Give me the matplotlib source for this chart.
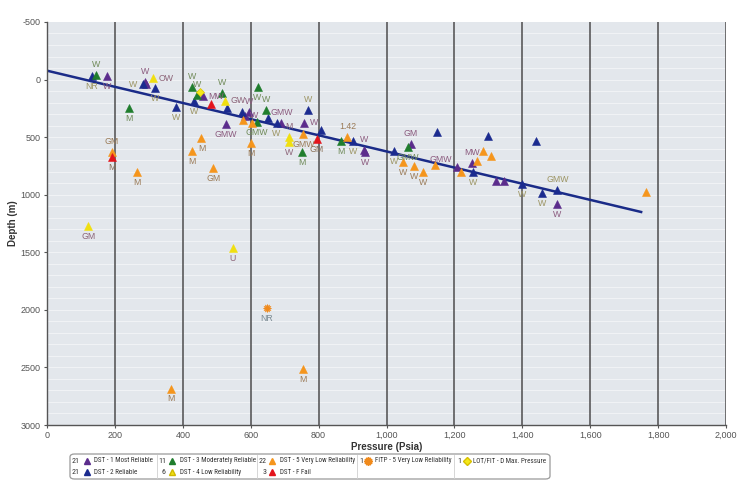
import matplotlib
matplotlib.use("Agg")
import matplotlib.pyplot as plt
from matplotlib.patches import FancyBboxPatch
from matplotlib.lines import Line2D
from matplotlib import font_manager

plt.rcParams['font.family'] = ['Liberation Sans', 'DejaVu Sans']
plt.rcParams['axes.unicode_minus'] = False

# pick a narrow font for the legend if one is installed
_fl = font_manager.fontManager.ttflist
_names = {f.name for f in _fl}
NARROW_FAMILY, NARROW_STRETCH = ['Liberation Sans'], 'normal'
for cand in ['Liberation Sans Narrow', 'Arial Narrow', 'Roboto Condensed', 'Open Sans Condensed',
             'DejaVu Sans Condensed']:
    if cand in _names:
        NARROW_FAMILY = [cand]
        break
else:
    for f in _fl:
        if f.name in ('Roboto', 'Open Sans', 'DejaVu Sans', 'Noto Sans') and str(f.stretch) in ('condensed', 'semi-condensed', '75', '87.5'):
            NARROW_FAMILY, NARROW_STRETCH = [f.name], 'condensed'
            break

# ---------------- data ----------------
dst1_p = [178, 289, 292, 459, 527, 596, 582, 690, 757, 937, 935, 1072, 1251, 1209, 1323, 1346, 1503]
dst1_d = [-33, 19, 40, 143, 389, 279, 314, 378, 375, 627, 612, 563, 728, 763, 881, 878, 1081]
dst1_lab = ['W', 'W', '', 'MW', 'GMW', 'W', 'W', 'GMW', 'W', 'W', 'W', 'GM', 'MW', 'GMW', '', '', 'W']
dst1_pos = ['b', 'a', '', 'r', 'b', 'a', 'r', 'a', 'r', 'b', 'a', 'a', 'a', 'al', '', '', 'b']

dst2_p = [132, 282, 318, 380, 433, 531, 573, 650, 676, 768, 806, 902, 1023, 1148, 1300, 1440, 1254, 1398, 1457, 1503]
dst2_d = [-33, 41, 76, 236, 184, 244, 279, 337, 375, 264, 438, 534, 621, 458, 490, 534, 800, 910, 988, 960]
dst2_lab = ['NR', 'W', 'W', 'W', 'W', '', '', '', 'W', 'W', '', 'W', 'W', '', '', '', 'W', 'W', 'W', 'GMW']
dst2_pos = ['b', 'l', 'b', 'b', 'b', '', '', '', 'b', 'a', '', 'b', 'b', '', '', '', 'b', 'b', 'b', 'a']

dst3_p = [144, 240, 426, 443, 516, 620, 644, 619, 750, 866, 1062]
dst3_d = [-40, 245, 62, 134, 114, 67, 264, 366, 632, 534, 588]
dst3_lab = ['W', 'M', 'W', 'W', 'W', 'W', 'W', 'GMW', 'M', 'M', 'GMW']
dst3_pos = ['a', 'b', 'a', 'a', 'a', 'b', 'a', 'b', 'b', 'b', 'b']

dst4_p = [311, 524, 714, 714, 122, 547]
dst4_d = [-11, 186, 496, 545, 1270, 1466]
dst4_lab = ['OW', 'GW', 'M', 'W', 'GM', 'U']
dst4_pos = ['r', 'r', 'a', 'b', 'b', 'b']

dst5_p = [191, 266, 426, 455, 490, 578, 603, 601, 755, 885, 1050, 1082, 1108, 1143, 1285, 1307, 1266, 1219, 1764, 364, 753]
dst5_d = [632, 800, 620, 508, 766, 348, 380, 554, 470, 496, 719, 751, 803, 742, 618, 661, 705, 806, 974, 2683, 2517]
dst5_lab = ['GM', 'M', 'M', 'M', 'GM', '', '', 'M', 'GMW', '1.42', 'W', 'W', 'W', '', '', '', '', '', '', 'M', 'M']
dst5_pos = ['a', 'b', 'b', 'b', 'b', '', '', 'b', 'b', 'a', 'b', 'b', 'b', '', '', '', '', '', '', 'b', 'b']

dstf_p = [191, 482, 794]
dstf_d = [676, 215, 517]
dstf_lab = ['M', '', 'GM']
dstf_pos = ['b', '', 'b']

fitp_p = [647]
fitp_d = [1982]
fitp_lab = ['NR']
fitp_pos = ['b']

lot_p = [451]
lot_d = [105]

trend_p = [0, 1750]
trend_d = [-77, 1150]

legend_counts = ['21', '21', '11', '6', '22', '3', '1', '1']
legend_names = ['DST - 1 Most Reliable', 'DST - 2 Reliable', 'DST - 3 Moderately Reliable',
                'DST - 4 Low Reliability', 'DST - 5 Very Low Reliability', 'DST - F Fail',
                'FITP - 5 Very Low Reliability', 'LOT/FIT - D Max. Pressure']

# ---------------- figure ----------------
fig = plt.figure(figsize=(7.5, 4.95), dpi=100)
fig.patch.set_facecolor('white')
ax = fig.add_axes([0.0627, 0.1414, 0.9053, 0.8142])
ax.set_facecolor('#e3e7ec')

ax.set_xlim(0, 2000)
ax.set_ylim(3000, -500)
ax.set_xticks(range(0, 2001, 200))
ax.set_xticklabels([f'{v:,}' for v in range(0, 2001, 200)])
ax.set_yticks(range(-500, 3001, 500))
ax.tick_params(axis='both', which='major', labelsize=6.5, labelcolor='#555555', color='#555555',
               length=2.5, pad=2)

for y in range(-400, 3001, 100):
    ax.axhline(y, color='#f1f3f6', lw=0.7, zorder=0.5)
for x in range(200, 2001, 200):
    ax.axvline(x, color='#4d4d4d', lw=1.1, zorder=0.6)

for s in ['top', 'right']:
    ax.spines[s].set_visible(False)
for s in ['left', 'bottom']:
    ax.spines[s].set_color('#555555')
    ax.spines[s].set_linewidth(1.0)

ax.set_xlabel('Pressure (Psia)', fontsize=7, fontweight='bold', color='#333333', labelpad=1)
ax.set_ylabel('Depth (m)', fontsize=7, fontweight='bold', color='#333333', labelpad=2)

ax.plot(trend_p, trend_d, color='#1a2b88', lw=1.8, zorder=2)

series = [
    (dst1_p, dst1_d, dst1_lab, dst1_pos, '#5b2c8c', '^', 5.5, '#8b5a7e'),
    (dst2_p, dst2_d, dst2_lab, dst2_pos, '#1b2b8f', '^', 5.5, '#9c9462'),
    (dst3_p, dst3_d, dst3_lab, dst3_pos, '#1f7d2d', '^', 5.5, '#6f8a58'),
    (dst4_p, dst4_d, dst4_lab, dst4_pos, '#f0df10', '^', 5.5, '#8c6478'),
    (dst5_p, dst5_d, dst5_lab, dst5_pos, '#f5951c', '^', 5.5, '#9a7a56'),
    (dstf_p, dstf_d, dstf_lab, dstf_pos, '#e3141c', '^', 5.5, '#8a7058'),
    (fitp_p, fitp_d, fitp_lab, fitp_pos, '#f08a1c', (12, 1, 0), 6, '#7a8a92'),
]

offs = {'b': ((0, -7.5), 'center', 'center'),
        'a': ((0, 7.5), 'center', 'center'),
        'r': ((4, 0), 'left', 'center'),
        'l': ((-4, 0), 'right', 'center'),
        'al': ((-4, 6), 'right', 'center')}

for p, d, labs, poss, col, mk, ms, lcol in series:
    ax.plot(p, d, linestyle='none', marker=mk, markersize=ms, color=col,
            markeredgecolor=col, markeredgewidth=0.4, zorder=3)
    for xi, yi, lab, pos in zip(p, d, labs, poss):
        if lab:
            (dx, dy), ha, va = offs[pos]
            ax.annotate(lab, (xi, yi), xytext=(dx, dy), textcoords='offset points',
                        ha=ha, va=va, fontsize=6.3, color=lcol, zorder=4)

ax.plot(lot_p, lot_d, linestyle='none', marker='D', markersize=4, color='#f5e81a',
        markeredgecolor='#d8c000', markeredgewidth=0.5, zorder=3)

# ---------------- legend (manual) ----------------
W, H = 750.0, 495.0
def fx(px):
    return px / W
def fy(py):
    return 1 - py / H

box = FancyBboxPatch((fx(70), fy(479)), fx(550) - fx(70), fy(454) - fy(479),
                     boxstyle='round,pad=0,rounding_size=0.006', transform=fig.transFigure,
                     facecolor='white', edgecolor='#9a9a9a', linewidth=0.9)
fig.patches.append(box)
for xd in [157, 257, 357, 454]:
    fig.add_artist(Line2D([fx(xd), fx(xd)], [fy(455), fy(478)], transform=fig.transFigure,
                          color='#d0d0d0', lw=0.6))

leg_style = [('#5b2c8c', '^', 5, '#5b2c8c'), ('#1b2b8f', '^', 5, '#1b2b8f'),
             ('#1f7d2d', '^', 5, '#1f7d2d'), ('#f0df10', '^', 5, '#d0b800'),
             ('#f5951c', '^', 5, '#f5951c'), ('#e3141c', '^', 5, '#e3141c'),
             ('#f08a1c', (12, 1, 0), 6, '#f08a1c'), ('#f5e81a', 'D', 4, '#d8c000')]
leg_cols = [(80, 87, 94), (80, 87, 94), (166, 172, 180), (166, 172, 180),
            (267, 272, 280), (267, 272, 280), (363, 368, 375), (461, 467, 473)]
leg_right = [155, 155, 255, 255, 355, 355, 452, 548]
leg_rows = [461, 472, 461, 472, 461, 472, 461, 461]

base_fs = 5.8
name_texts = []
for i in range(8):
    cx, mx, tx = leg_cols[i]
    ry = leg_rows[i]
    col, mk, ms, ec = leg_style[i]
    fig.text(fx(cx), fy(ry), legend_counts[i], ha='right', va='center', fontsize=base_fs,
             color='#333333', family=NARROW_FAMILY, fontstretch=NARROW_STRETCH)
    fig.add_artist(Line2D([fx(mx)], [fy(ry)], transform=fig.transFigure, marker=mk,
                          markersize=ms, color=col, markeredgecolor=ec, linestyle='none'))
    t = fig.text(fx(tx), fy(ry), legend_names[i], ha='left', va='center', fontsize=base_fs,
                 color='#333333', family=NARROW_FAMILY, fontstretch=NARROW_STRETCH)
    name_texts.append(t)

# shrink legend names uniformly so each fits in its column
fig.canvas.draw()
r = fig.canvas.get_renderer()
scale = 1.0
for i, t in enumerate(name_texts):
    w = t.get_window_extent(r).width
    avail = leg_right[i] - leg_cols[i][2]
    scale = min(scale, avail / w)
for t in name_texts:
    t.set_fontsize(base_fs * scale)

fig.savefig('out.png', dpi=100)
